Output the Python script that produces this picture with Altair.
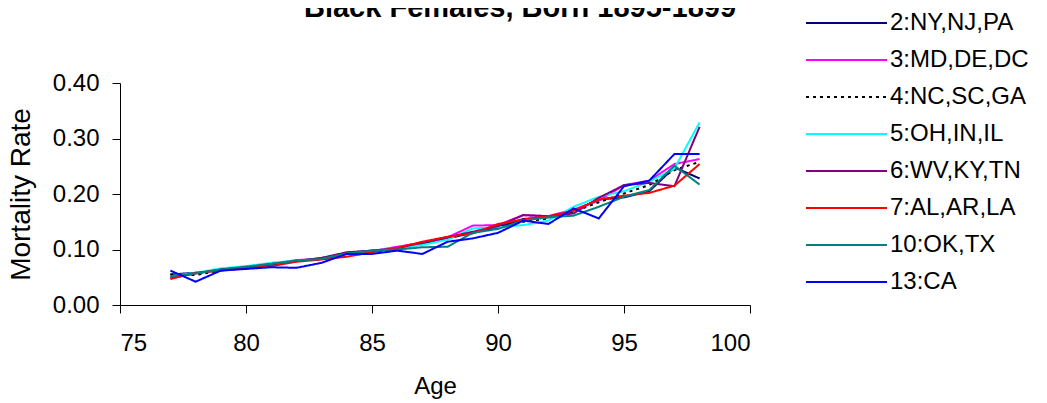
import altair as alt
import pandas as pd

ages = list(range(77, 99))

series_names = ["2:NY,NJ,PA", "3:MD,DE,DC", "4:NC,SC,GA", "5:OH,IN,IL",
                "6:WV,KY,TN", "7:AL,AR,LA", "10:OK,TX", "13:CA"]
series_colors = ["#000080", "#FF00FF", "#000000", "#00FFFF",
                 "#800080", "#FF0000", "#008080", "#0000FF"]
series_dash = [[1, 0], [1, 0], [3, 4], [1, 0], [1, 0], [1, 0], [1, 0], [1, 0]]

ny = [0.055, 0.058, 0.063, 0.068, 0.073, 0.080, 0.084, 0.094, 0.098, 0.100, 0.110,
      0.120, 0.130, 0.140, 0.155, 0.158, 0.170, 0.190, 0.194, 0.205, 0.248, 0.228]
md = [0.050, 0.057, 0.063, 0.069, 0.074, 0.081, 0.083, 0.092, 0.097, 0.105, 0.112,
      0.122, 0.143, 0.144, 0.162, 0.160, 0.172, 0.188, 0.216, 0.224, 0.254, 0.263]
nc = [0.055, 0.054, 0.062, 0.068, 0.073, 0.080, 0.082, 0.093, 0.097, 0.098, 0.110,
      0.122, 0.130, 0.140, 0.150, 0.156, 0.168, 0.185, 0.201, 0.216, 0.243, 0.258]
oh = [0.052, 0.058, 0.066, 0.070, 0.076, 0.080, 0.084, 0.094, 0.098, 0.102, 0.108,
      0.118, 0.138, 0.140, 0.144, 0.152, 0.177, 0.195, 0.205, 0.222, 0.246, 0.329]
wv = [0.048, 0.057, 0.064, 0.068, 0.074, 0.079, 0.085, 0.095, 0.098, 0.102, 0.113,
      0.122, 0.132, 0.142, 0.162, 0.160, 0.165, 0.193, 0.216, 0.220, 0.214, 0.321]
al = [0.047, 0.058, 0.062, 0.066, 0.070, 0.078, 0.082, 0.087, 0.095, 0.103, 0.114,
      0.123, 0.129, 0.146, 0.154, 0.160, 0.170, 0.190, 0.197, 0.202, 0.215, 0.254]
ok = [0.052, 0.057, 0.064, 0.069, 0.074, 0.080, 0.083, 0.093, 0.098, 0.100, 0.104,
      0.105, 0.130, 0.137, 0.152, 0.158, 0.161, 0.177, 0.195, 0.207, 0.251, 0.217]
ca = [0.062, 0.042, 0.062, 0.065, 0.068, 0.067, 0.076, 0.092, 0.092, 0.098, 0.092,
      0.114, 0.120, 0.130, 0.152, 0.146, 0.174, 0.156, 0.214, 0.224, 0.272, 0.272]

all_values = [ny, md, nc, oh, wv, al, ok, ca]

rows = []
for name, vals in zip(series_names, all_values):
    for a, v in zip(ages, vals):
        rows.append({"Age": a, "Rate": v, "Region": name})
df = pd.DataFrame(rows)
legend_df = pd.DataFrame({"Region": series_names})

FONT = "Liberation Sans"

color_scale = alt.Scale(domain=series_names, range=series_colors)
dash_scale = alt.Scale(domain=series_names, range=series_dash)

lines = alt.Chart(df).mark_line(strokeWidth=2).encode(
    x=alt.X("Age:Q", scale=alt.Scale(domain=[75, 100], nice=False, zero=False),
            axis=alt.Axis(values=[75, 80, 85, 90, 95, 100], title="Age",
                          titlePadding=19, labelPadding=18)),
    y=alt.Y("Rate:Q", scale=alt.Scale(domain=[0, 0.4], nice=False),
            axis=alt.Axis(values=[0, 0.1, 0.2, 0.3, 0.4], format=".2f",
                          title="Mortality Rate", titlePadding=17,
                          labelPadding=13, titleFontSize=28)),
    color=alt.Color("Region:N", scale=color_scale, legend=None),
    strokeDash=alt.StrokeDash("Region:N", scale=dash_scale, legend=None),
    order=alt.Order("Age:Q"),
)

leg_y = alt.Y("Region:N",
              scale=alt.Scale(type="point", domain=series_names, range=[-60, 199], padding=0),
              axis=None)

leg_rules = alt.Chart(legend_df).mark_rule(strokeWidth=2).encode(
    x=alt.value(686), x2=alt.value(767), y=leg_y,
    color=alt.Color("Region:N", scale=color_scale, legend=None),
    strokeDash=alt.StrokeDash("Region:N", scale=dash_scale, legend=None),
)

leg_text = alt.Chart(legend_df).mark_text(
    align="left", baseline="middle", fontSize=24, font=FONT, color="#000000"
).encode(
    x=alt.value(770), y=leg_y, text="Region:N",
)

chart = alt.layer(lines, leg_rules, leg_text).resolve_scale(y="independent").properties(
    width=630, height=222,
    background="white",
    title=alt.TitleParams("Black Females, Born 1895-1899", fontSize=29, fontWeight="bold",
                          font=FONT, anchor="middle", frame="group", dx=85, dy=16,
                          color="#000000"),
    autosize=alt.AutoSizeParams(type="none"),
    padding={"left": 112, "top": 75, "right": 289, "bottom": 120},
).configure_view(stroke=None).configure_axis(
    grid=False, domainColor="#000000", tickColor="#000000", domainWidth=1,
    tickSize=8, labelFont=FONT, titleFont=FONT, labelFontSize=24, titleFontSize=24,
    labelColor="#000000", titleColor="#000000", titleFontWeight="normal",
)

chart.save("out.html", embed_options={"renderer": "svg", "actions": False})
